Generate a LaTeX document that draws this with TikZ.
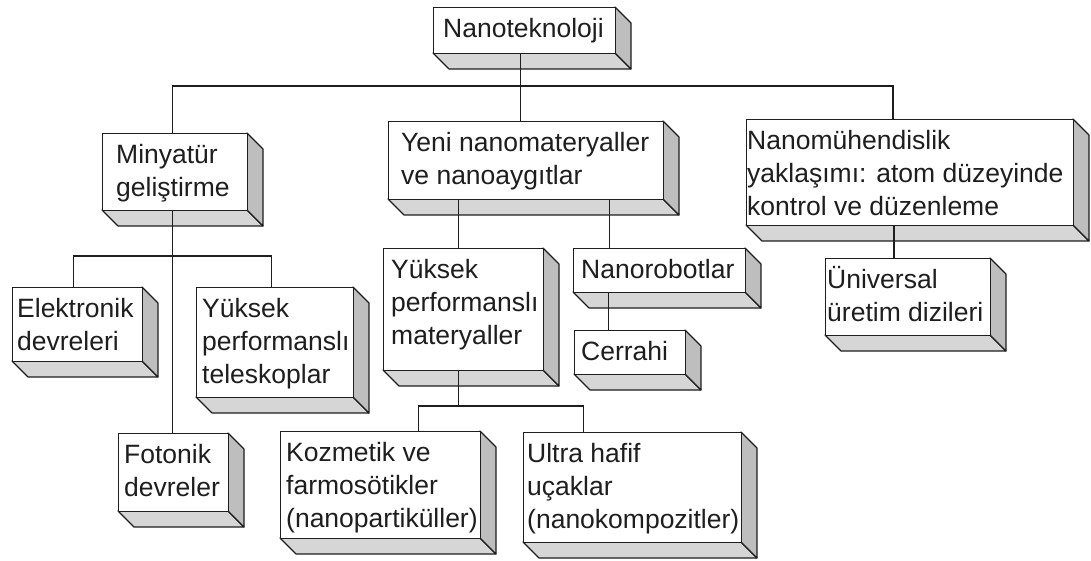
\documentclass[tikz,border=0pt]{standalone}
\usepackage{fontspec}
\setmainfont{Liberation Sans}
\usetikzlibrary{calc}
\definecolor{botface}{RGB}{214,214,214}
\definecolor{sideface}{RGB}{190,190,190}
\definecolor{ink}{RGB}{30,30,30}
\tikzset{
  front/.style={draw=ink, line width=1.1pt, fill=white, inner sep=0pt, anchor=north west},
  face/.style={draw=ink, line width=1.1pt, line join=round},
  txt/.style={inner sep=0pt, anchor=north west, align=left, text=ink,
              font=\fontsize{26.5}{33}\selectfont},
  conn/.style={draw=ink, line width=1.1pt}
}
% name, left, top, right, bottom, text x-offset, text
\newcommand\threedbox[7]{%
  \path[face, fill=botface] (#2,#5) -- (#4,#5) -- ({#4+16},{#5+16}) -- ({#2+16},{#5+16}) -- cycle;
  \path[face, fill=sideface] (#4,#3) -- ({#4+16},{#3+16}) -- ({#4+16},{#5+16}) -- (#4,#5) -- cycle;
  \node[front, minimum width={(#4-#2)*1pt}, minimum height={(#5-#3)*1pt}] (#1) at (#2,#3) {};
  \node[txt] at ($(#1.north west)+(#6,5)$) {\rule{0pt}{25pt}#7};
}
\begin{document}
\begin{tikzpicture}[x=1pt,y=-1pt]
\useasboundingbox (0,0) rectangle (1091,561);
\fill[white] (0,0) rectangle (1091,561);

\threedbox{nano}{433}{7}{615}{53}{10}{Nanoteknoloji}
\threedbox{min}{102}{133}{247}{210}{14}{Minyatür\\geliştirme}
\threedbox{yeni}{388}{121}{663}{199}{13}{Yeni nanomateryaller\\ve nanoaygıtlar}
\threedbox{nm}{746}{119}{1073}{225}{1}{Nanomühendislik\\yaklaşımı: atom düzeyinde\\kontrol ve düzenleme}
\threedbox{elek}{12}{287}{142}{361}{5}{Elektronik\\devreleri}
\threedbox{tele}{196}{287}{353}{397}{6}{Yüksek\\performanslı\\teleskoplar}
\threedbox{foto}{118}{433}{228}{511}{6}{Fotonik\\devreler}
\threedbox{ymat}{383}{248}{543}{370}{8}{Yüksek\\performanslı\\materyaller}
\threedbox{robot}{573}{248}{745}{292}{8}{Nanorobotlar}
\threedbox{cerr}{574}{330}{685}{374}{7}{Cerrahi}
\threedbox{koz}{280}{431}{480}{538}{6}{Kozmetik ve\\farmosötikler\\(nanopartiküller)}
\threedbox{ultra}{523}{432}{741}{542}{4}{Ultra hafif\\uçaklar\\(nanokompozitler)}
\threedbox{univ}{825}{258}{990}{335}{2}{Üniversal\\üretim dizileri}

% connector points
\coordinate (bar1) at (0,86);
\coordinate (bar2) at (0,256);
\coordinate (bar3) at (0,406);
\coordinate (nanoS) at ($(nano.south west)!0.478!(nano.south east)$);
\coordinate (minN) at ($(min.north west)!0.483!(min.north east)$);
\coordinate (minS) at ($(min.south west)!0.483!(min.south east)$);
\coordinate (yeniN) at ($(yeni.north west)!0.48!(yeni.north east)$);
\coordinate (yeniS1) at ($(yeni.south west)!0.255!(yeni.south east)$);
\coordinate (yeniS2) at ($(yeni.south west)!0.803!(yeni.south east)$);
\coordinate (nmN) at ($(nm.north west)!0.448!(nm.north east)$);
\coordinate (nmS) at ($(nm.south west)!0.451!(nm.south east)$);
\coordinate (elekN) at ($(elek.north west)!0.47!(elek.north east)$);
\coordinate (teleN) at ($(tele.north west)!0.478!(tele.north east)$);
\coordinate (ymatS) at ($(ymat.south west)!0.47!(ymat.south east)$);
\coordinate (robotS) at ($(robot.south west)!0.205!(robot.south east)$);
\coordinate (kozN) at ($(koz.north west)!0.69!(koz.north east)$);
\coordinate (ultraN) at ($(ultra.north west)!0.275!(ultra.north east)$);

% level 1
\draw[conn] (nanoS) -- (nanoS |- bar1);
\draw[conn] (minN) -- (minN |- bar1) -- (nmN |- bar1) -- (nmN);
\draw[conn] (yeniN |- bar1) -- (yeniN);
% Minyatür children
\draw[conn] (minS) -- (minS |- foto.north);
\draw[conn] (elekN) -- (elekN |- bar2) -- (teleN |- bar2) -- (teleN);
% Yeni children
\draw[conn] (yeniS1) -- (yeniS1 |- ymat.north);
\draw[conn] (yeniS2) -- (yeniS2 |- robot.north);
% materyaller children
\draw[conn] (ymatS) -- (ymatS |- bar3);
\draw[conn] (kozN) -- (kozN |- bar3) -- (ultraN |- bar3) -- (ultraN);
% robot -> cerrahi
\draw[conn] (robotS) -- (robotS |- cerr.north);
% nanomühendislik -> üniversal
\draw[conn] (nmS) -- (nmS |- univ.north);
\end{tikzpicture}
\end{document}
